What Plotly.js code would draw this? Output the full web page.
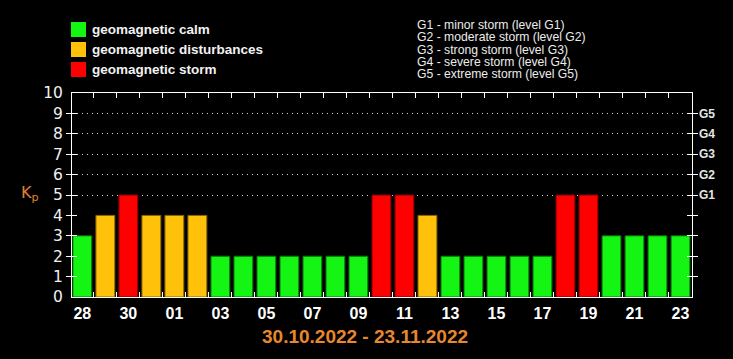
<!DOCTYPE html>
<html>
<head>
<meta charset="utf-8">
<script src="https://cdn.plot.ly/plotly-3.0.1.min.js"></script>
<style>html,body{margin:0;padding:0;background:#000;}#chart{width:733px;height:359px;}</style>
</head>
<body>
<div id="chart"></div>
<script>
// Days (28 Oct 2022 - 23 Nov 2022)
const days = ['28','29','30','31','01','02','03','04','05','06','07','08','09','10','11','12','13','14','15','16','17','18','19','20','21','22','23'];
// Daily max Kp index
const kp = [3,4,5,4,4,4,2,2,2,2,2,2,2,5,5,4,2,2,2,2,2,5,5,3,3,3,3];
// Categories
const catNames = ['geomagnetic calm','geomagnetic disturbances','geomagnetic storm'];
const catColors = ['#14f514','#ffc10a','#ff0000'];
const catLines = ['#0a6a0a','#8a6500','#7a0000'];
// Storm levels on the right axis
const gLabels = ['G1','G2','G3','G4','G5'];
const gKp = [5,6,7,8,9];
const gDescriptions = ['G1 - minor storm (level G1)','G2 - moderate storm (level G2)','G3 - strong storm (level G3)','G4 - severe storm (level G4)','G5 - extreme storm (level G5)'];
const yTicks = [0,1,2,3,4,5,6,7,8,9,10];
const dateRange = '30.10.2022 - 23.11.2022';

function catOf(v){ return v >= 5 ? 2 : (v >= 4 ? 1 : 0); }

const xIdx = days.map((d,i)=>i);
const traces = catNames.map((name,c)=>{
  const xs=[], ys=[];
  kp.forEach((v,i)=>{ if(catOf(v)===c){ xs.push(xIdx[i]); ys.push(v);} });
  return {type:'bar', name:name, x:xs, y:ys, width:0.82,
    xaxis: c===1 ? 'x2' : 'x', yaxis: c===2 ? 'y2' : 'y',
    marker:{color:catColors[c], line:{color:catLines[c], width:1}},
    showlegend:false, hoverinfo:'x+y'};
});

const tickvalsX = xIdx.filter(i=>i%2===0);
const ticktextX = tickvalsX.map(i=>days[i]);
const boundaries = xIdx.slice(1).map(i=>i-0.5);
const xRange = [-0.45,26.5];

const L=72, T=93, W=620, H=204;
const px2x = p => (p-L)/W;
const py2y = p => (T+H-p)/H;

const shapes = [];
const annotations = [];
catNames.forEach((n,c)=>{
  const cy = 29.5 + 20*c;
  shapes.push({type:'rect', xref:'paper', yref:'paper', x0:px2x(71), x1:px2x(86), y0:py2y(cy+7.5), y1:py2y(cy-7.5),
    fillcolor:catColors[c], line:{width:0}});
  annotations.push({xref:'paper', yref:'paper', x:px2x(90), y:py2y(cy), xanchor:'left', yanchor:'middle', showarrow:false,
    text:n, font:{family:'Liberation Sans, Arial, sans-serif', size:13.5, color:'#f2f2f2', weight:'bold'}});
});
gDescriptions.forEach((t,i)=>{
  annotations.push({xref:'paper', yref:'paper', x:px2x(416), y:py2y(25+12.3*i), xanchor:'left', yanchor:'middle', showarrow:false,
    borderpad:0, text:t, font:{family:'Liberation Sans, Arial, sans-serif', size:12.2, color:'#ececec'}});
});
annotations.push({xref:'paper', yref:'paper', x:px2x(30), y:py2y(193), xanchor:'center', yanchor:'middle', showarrow:false,
  text:'K<sub>p</sub>', font:{family:'DejaVu Sans, sans-serif', size:16, color:'#e0802c'}});
annotations.push({xref:'paper', yref:'paper', x:px2x(365), y:py2y(336), xanchor:'center', yanchor:'middle', showarrow:false,
  text:dateRange, font:{family:'Liberation Sans, Arial, sans-serif', size:19, color:'#e8882e', weight:'bold'}});

const layout = {
  width:733, height:359,
  margin:{l:L, r:733-L-W, t:T, b:359-T-H, pad:0},
  paper_bgcolor:'#000', plot_bgcolor:'#000',
  barmode:'overlay',
  showlegend:false,
  xaxis:{range:xRange, tickmode:'array', tickvals:tickvalsX, ticktext:ticktextX,
    showgrid:false, zeroline:false, showline:true, linecolor:'#ffffff', linewidth:1, mirror:true,
    ticks:'', ticklabelstandoff:2,
    tickfont:{family:'Liberation Sans, Arial, sans-serif', size:16, color:'#ffffff', weight:'bold'}, fixedrange:true},
  xaxis2:{range:xRange, overlaying:'x', side:'bottom', anchor:'y', tickmode:'array', tickvals:boundaries,
    showticklabels:false, showgrid:false, zeroline:false, showline:false, mirror:'ticks',
    ticks:'inside', ticklen:5, tickcolor:'#ffffff', tickwidth:1, fixedrange:true},
  yaxis:{range:[0,10], tickmode:'array', tickvals:yTicks, showgrid:false, zeroline:false,
    showline:true, linecolor:'#ffffff', linewidth:1, mirror:'allticks', ticks:'inside', ticklen:5, tickcolor:'#ffffff',
    ticklabelstandoff:5,
    tickfont:{family:'DejaVu Sans, sans-serif', size:15.5, color:'#f0f0f0'}, fixedrange:true},
  yaxis2:{range:[0,10], overlaying:'y', side:'right', anchor:'x', tickmode:'array', tickvals:gKp, ticktext:gLabels,
    showgrid:true, gridcolor:'#d8d8d8', gridwidth:1, griddash:'1px,4px', zeroline:false, showline:false, ticks:'',
    ticklabelstandoff:6,
    tickfont:{family:'Liberation Sans, Arial, sans-serif', size:12, color:'#e6e6e6', weight:'bold'}, fixedrange:true},
  shapes:shapes,
  annotations:annotations
};

Plotly.newPlot('chart', traces, layout, {displayModeBar:false, staticPlot:true});
</script>
</body>
</html>
